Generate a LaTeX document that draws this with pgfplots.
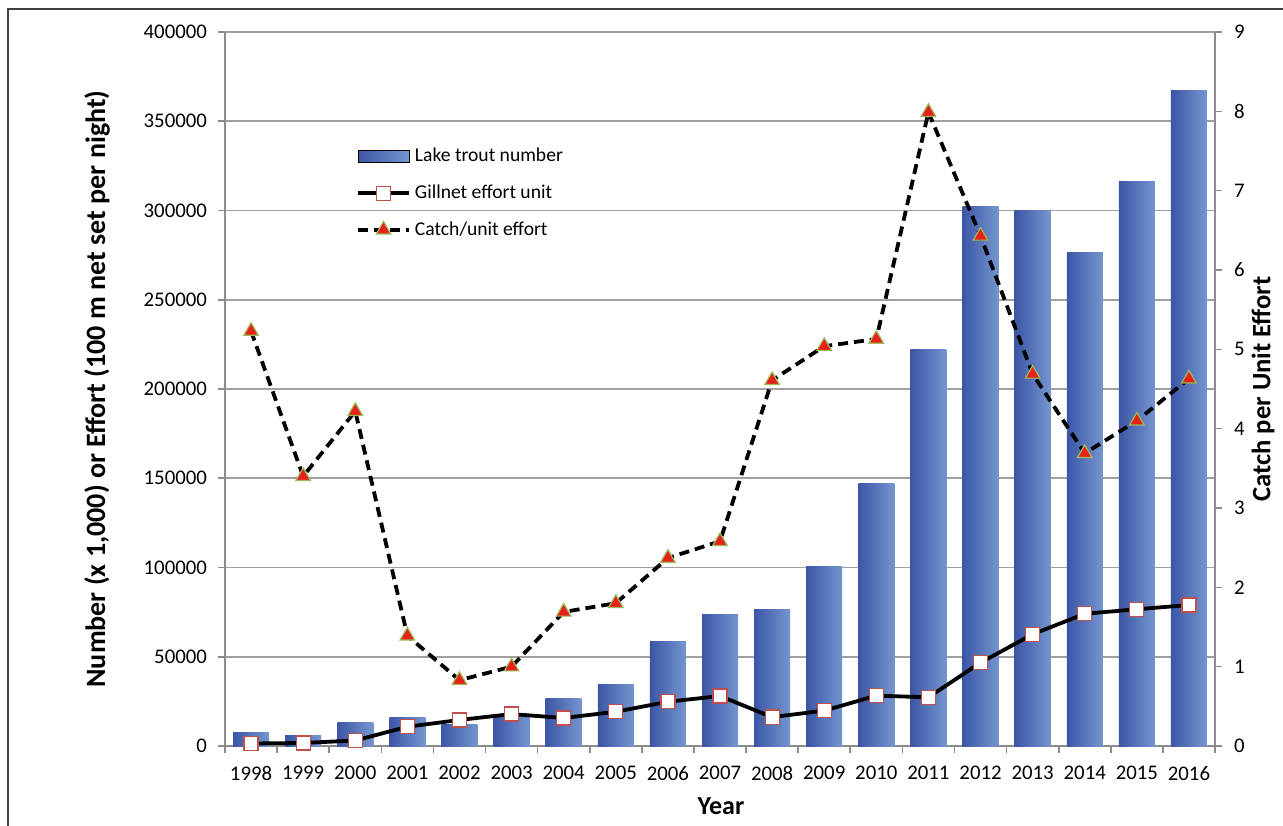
\documentclass[border=0pt]{standalone}
\usepackage{fontspec}
\setmainfont{Carlito}
\usepackage{pgfplots}
\usepackage{pgfplotstable}
\pgfplotsset{compat=1.18}
\definecolor{barL}{HTML}{3C56A6}
\definecolor{barR}{HTML}{7595CF}
\definecolor{sqred}{HTML}{C0504D}
\definecolor{trired}{HTML}{E8201A}
\definecolor{trigreen}{HTML}{9BBB59}
\definecolor{gridc}{HTML}{A0A0A0}
\definecolor{axc}{HTML}{8C8C8C}
\pgfplotstableread{
x n g c
0 7300 1400 5.23
1 5800 1700 3.40
2 12900 3100 4.22
3 15700 10800 1.39
4 12300 14600 0.83
5 17500 17900 1.00
6 26500 15700 1.69
7 34700 19200 1.80
8 58800 24800 2.37
9 73400 28000 2.58
10 76200 16200 4.61
11 100800 19800 5.04
12 147000 28200 5.13
13 222000 27300 7.99
14 302500 46700 6.43
15 300000 62600 4.69
16 276500 74100 3.69
17 316000 76600 4.10
18 367000 79000 4.63
}\data
\pgfplotsset{
  base/.style={
    at={(112.5pt,-373pt)}, anchor=south west,
    scale only axis, width=495pt, height=357pt,
    xmin=-0.5, xmax=18.5,
    font=\fontsize{10.4}{12.5}\selectfont,
    tick align=outside,
    axis line style={draw=axc, line width=0.8pt},
    tick style={draw=axc, line width=0.8pt},
    major tick length=3.5pt, minor tick length=3.5pt,
    scaled y ticks=false,
    yticklabel style={/pgf/number format/fixed, /pgf/number format/1000 sep={}, /pgf/number format/assume math mode=true},
    xticklabel style={/pgf/number format/assume math mode=true, yshift=-3pt},
  }
}
\begin{document}
\begin{tikzpicture}
\useasboundingbox (0,0) rectangle (641.5pt,-412.5pt);
\draw[line width=1pt, black!75] (4pt,-413pt) -- (4pt,-4.5pt) -- (642pt,-4.5pt);
\begin{axis}[base,
  ymin=0, ymax=400000,
  axis x line*=bottom, axis y line*=left,
  xtick={0,...,18},
  xticklabels={1998,1999,2000,2001,2002,2003,2004,2005,2006,2007,2008,2009,2010,2011,2012,2013,2014,2015,2016},
  major x tick style={draw=none},
  minor xtick={-0.5,0.5,...,18.5},
  ytick={0,50000,...,400000},
  yticklabel style={xshift=-2pt},
  ymajorgrids, grid style={draw=gridc, line width=0.8pt},
  xlabel={Year},
  ylabel={Number (x 1,000) or Effort (100 m net set per night)},
  every axis x label/.style={at={(axis description cs:0.501,-0.084)}, anchor=center, font=\fontsize{13}{15}\selectfont\bfseries},
  every axis y label/.style={at={(axis description cs:-0.1293,0.5)}, anchor=center, rotate=90, font=\fontsize{14}{16}\selectfont\bfseries},
]
\pgfplotsinvokeforeach{0,...,18}{
\addplot[ybar, bar width=18pt, draw=none, left color=barL, right color=barR, forget plot,
  x filter/.expression={abs(x-#1)<0.2 ? x : nan}] table[x=x,y=n]{\data};
}
\addplot[black, line width=1.9pt, mark=square*, mark size=3.5pt, mark options={solid, fill=white, draw=sqred, line width=0.6pt}] table[x=x,y=g]{\data};
\end{axis}
\begin{axis}[base,
  ymin=0, ymax=9,
  axis x line=none, axis y line*=right,
  ytick={0,...,9},
  yticklabel style={xshift=2.5pt},
  ylabel={Catch per Unit Effort},
  every axis y label/.style={at={(axis description cs:1.0485,0.5)}, anchor=center, rotate=90, font=\fontsize{13.3}{15}\selectfont\bfseries},
  legend style={at={(0.126,0.849)}, anchor=north west, draw=none, fill=none,
    row sep=6pt, cells={anchor=west}, font=\fontsize{9.8}{11.5}\selectfont},
  legend image code/.code={\draw[mark repeat=2,mark phase=2,#1] plot coordinates {(0pt,0pt) (12.75pt,0pt) (25.5pt,0pt)};},
]
\addlegendimage{legend image code/.code={\fill[left color=barL,right color=barR] (0pt,-3pt) rectangle (25.5pt,3pt);}}
\addlegendentry{Lake trout number}
\addlegendimage{black, line width=1.9pt, mark=square*, mark size=3.5pt, mark options={solid, fill=white, draw=sqred, line width=0.6pt}}
\addlegendentry{Gillnet effort unit}
\addplot[black, line width=1.9pt, dash pattern=on 5pt off 3pt, mark=triangle*, mark size=4.2pt, mark options={solid, fill=trired, draw=trigreen, line width=0.6pt}] table[x=x,y=c]{\data};
\addlegendentry{Catch/unit effort}
\end{axis}
\end{tikzpicture}
\end{document}
